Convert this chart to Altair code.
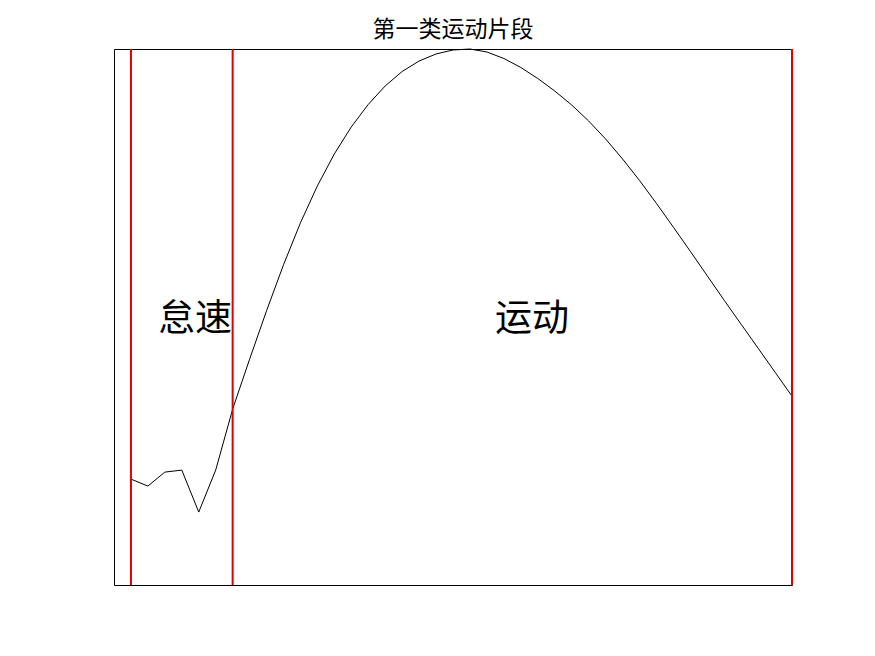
import altair as alt
import pandas as pd

# time index (s) and speed values
t = list(range(1, 41))
speed = [10.6, 9.9, 11.3, 11.5, 7.3, 11.5, 17.6, 22.6, 27.45, 32.05,
         36.25, 39.95, 43.15, 45.85, 48.1, 49.95, 51.4, 52.45, 53.15, 53.55,
         53.65, 53.35, 52.7, 51.8, 50.7, 49.45, 48.05, 46.45, 44.65, 42.65,
         40.5, 38.2, 35.82, 33.4, 30.95, 28.5, 26.1, 23.7, 21.3, 18.9]

split_x = [1, 7, 40]
label_text = ["怠速", "运动"]
label_x = [4.78, 24.66]
label_y = [26.5, 26.5]

title = "第一类运动片段"

FONT = "Noto Sans CJK SC"

df = pd.DataFrame({"t": t, "v": speed})
df_rules = pd.DataFrame({"x": split_x})
df_labels = pd.DataFrame({"x": label_x, "y": label_y, "text": label_text})

xs = alt.Scale(domain=[0, 40], nice=False, zero=False)
ys = alt.Scale(domain=[0, max(speed)], nice=False, zero=False)

line = alt.Chart(df).mark_line(color="black", strokeWidth=1).encode(
    x=alt.X("t:Q", scale=xs, axis=None),
    y=alt.Y("v:Q", scale=ys, axis=None),
)

rules = alt.Chart(df_rules).mark_rule(color="#e00000", strokeWidth=2).encode(
    x=alt.X("x:Q", scale=xs, axis=None),
)

labels = alt.Chart(df_labels).mark_text(
    font=FONT, fontSize=37, color="black", align="center", baseline="middle"
).encode(
    x=alt.X("x:Q", scale=xs, axis=None),
    y=alt.Y("y:Q", scale=ys, axis=None),
    text="text:N",
)

chart = alt.layer(line, rules, labels).properties(
    width=678,
    height=536,
    title=alt.TitleParams(text=title, font=FONT, fontSize=23, fontWeight="normal",
                          color="black", anchor="middle", offset=5),
    padding={"left": 106, "top": 41, "right": 10, "bottom": 10},
    autosize=alt.AutoSizeParams(type="none"),
    background="white",
).configure_view(
    stroke="black", strokeWidth=1
)

chart.save("out.html", embed_options={"renderer": "svg", "actions": False})
